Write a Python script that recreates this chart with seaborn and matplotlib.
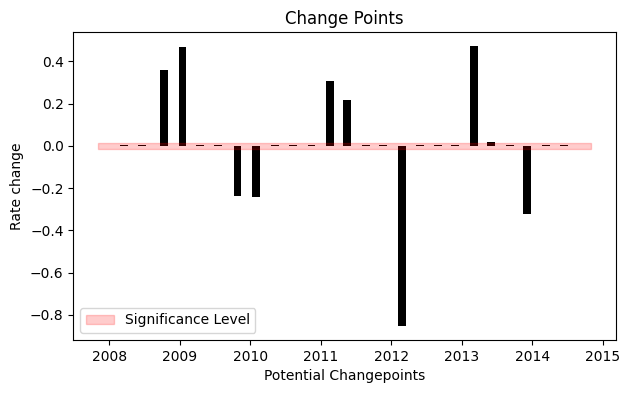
import pandas as pd
import numpy as np
import matplotlib
matplotlib.use("Agg")
import matplotlib.pyplot as plt
import matplotlib.dates as mdates
import seaborn as sns

# candidate change point dates and their rate change
dates = ["2008-03-18", "2008-06-17", "2008-10-12", "2009-01-15", "2009-04-16",
         "2009-07-16", "2009-10-27", "2010-01-30", "2010-05-08", "2010-08-11",
         "2010-11-14", "2011-02-16", "2011-05-19", "2011-08-22", "2011-11-21",
         "2012-02-24", "2012-05-30", "2012-08-29", "2012-11-28", "2013-03-03",
         "2013-06-02", "2013-09-09", "2013-12-05", "2014-03-14", "2014-06-13"]
rate_change = [0.005, 0.005, 0.361, 0.469, 0.005, 0.005, -0.238, -0.243, 0.005,
               0.005, 0.005, 0.309, 0.219, 0.005, 0.005, -0.853, 0.005, 0.005,
               0.005, 0.471, 0.020, 0.005, -0.323, 0.005, 0.005]

# significance band
band_start = "2007-11-04"
band_end = "2014-11-01"
sig_level = 0.015

df = pd.DataFrame({"date": pd.to_datetime(dates), "rate": rate_change})
df["x"] = mdates.date2num(df["date"])

fig, ax = plt.subplots(figsize=(6.3, 3.93), dpi=100)
fig.subplots_adjust(left=0.1163, right=0.9773, top=0.9178, bottom=0.1349)

min_gap = np.diff(np.sort(df["x"].values)).min()
sns.barplot(data=df, x="x", y="rate", native_scale=True, color="black",
            saturation=1, width=41 / min_gap, linewidth=0, ax=ax)

bx = mdates.date2num(pd.to_datetime([band_start, band_end]))
ax.fill_between(bx, -sig_level, sig_level, color="red", alpha=0.2,
                label="Significance Level")

ax.xaxis.set_major_locator(mdates.YearLocator())
ax.xaxis.set_major_formatter(mdates.DateFormatter("%Y"))
ax.margins(x=0.05, y=0.05)
ax.autoscale()

ax.set_title("Change Points")
ax.set_xlabel("Potential Changepoints")
ax.set_ylabel("Rate change")
ax.legend(loc="lower left")

fig.savefig("out.png", dpi=100)
